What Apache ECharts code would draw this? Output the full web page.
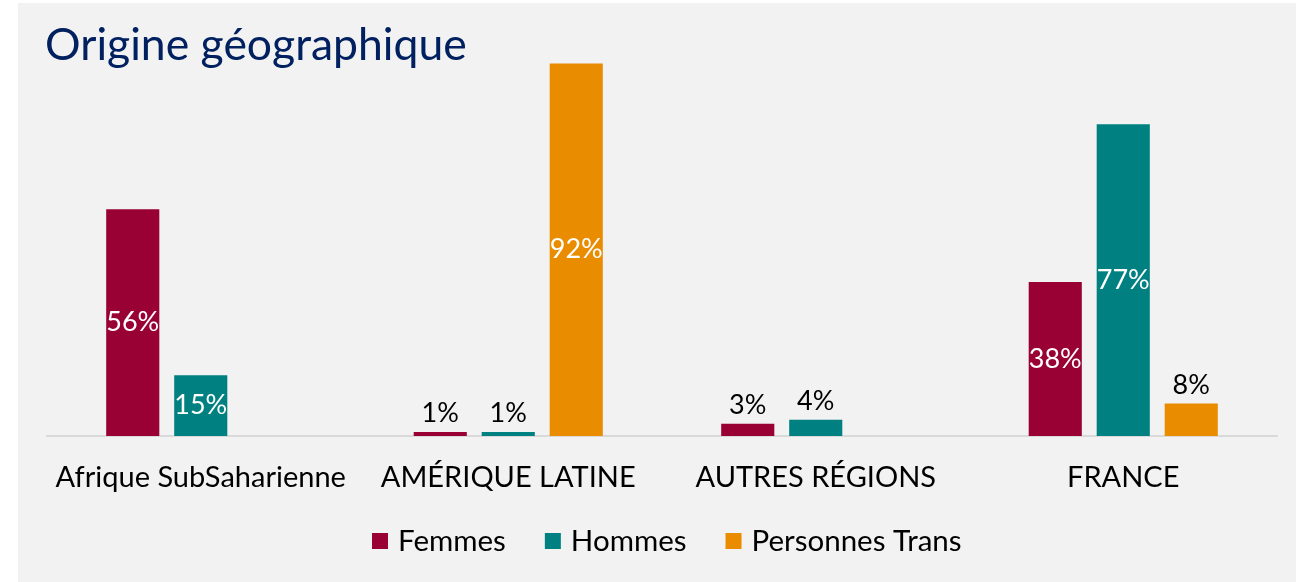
<!DOCTYPE html>
<html>
<head>
<meta charset="utf-8">
<script src="https://cdn.jsdelivr.net/npm/echarts@6/dist/echarts.min.js"></script>
<style>
html,body{margin:0;padding:0;background:#ffffff;}
#c{position:absolute;left:18px;top:3px;width:1278px;height:579px;background:#f2f2f2;}
</style>
</head>
<body>
<div id="c"></div>
<script>
var categories = ['Afrique SubSaharienne', 'AMÉRIQUE LATINE', 'AUTRES RÉGIONS', 'FRANCE'];
var femmes = [56, 1, 3, 38];
var hommes = [15, 1, 4, 77];
var trans = [null, 92, null, 8];
var seriesNames = ['Femmes', 'Hommes', 'Personnes Trans'];
var colors = ['#990033', '#008080', '#EA8C00'];

var FONT = 'Lato';

function items(vals) {
  return vals.map(function (v) {
    if (v === null) return '-';
    var inside = v >= 10;
    return {
      value: v,
      label: {
        show: true,
        position: inside ? 'inside' : 'top',
        color: inside ? '#ffffff' : '#000000',
        distance: 5
      }
    };
  });
}

var chart = echarts.init(document.getElementById('c'), null, {renderer: 'canvas'});
var valuesList = [femmes, hommes, trans];
chart.setOption({
  backgroundColor: 'transparent',
  animation: false,
  title: {
    text: 'Origine géographique',
    left: 22,
    top: 15,
    textStyle: {fontFamily: FONT, fontSize: 44.5, fontWeight: 'normal', color: '#002060'}
  },
  legend: {
    bottom: 21,
    left: 349,
    itemWidth: 16,
    itemHeight: 16,
    itemGap: 39,
    icon: 'rect',
    textStyle: {fontFamily: FONT, fontSize: 29.5, color: '#000000', padding: [0, 0, 0, 5]}
  },
  grid: {left: 29, right: 19, top: 28, bottom: 146, containLabel: false},
  xAxis: {
    type: 'category',
    data: categories,
    axisLine: {show: true, lineStyle: {color: '#d9d9d9', width: 2}},
    axisTick: {show: false},
    axisLabel: {fontFamily: FONT, fontSize: 29, color: '#000000', margin: 27, interval: 0}
  },
  yAxis: {
    type: 'value',
    min: 0,
    max: 100,
    show: false,
    splitLine: {show: false}
  },
  series: seriesNames.map(function (n, i) {
    return {
      name: n,
      type: 'bar',
      data: items(valuesList[i]),
      barGap: '28%',
      barCategoryGap: '38.5%',
      itemStyle: {color: colors[i]},
      label: {
        show: true,
        fontFamily: FONT,
        fontSize: 27,
        formatter: '{c}%'
      }
    };
  })
});
</script>
</body>
</html>
